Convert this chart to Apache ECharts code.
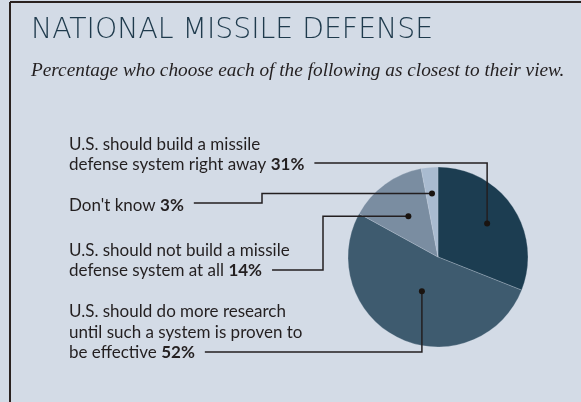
<!DOCTYPE html>
<html>
<head>
<meta charset="utf-8">
<script src="https://cdn.jsdelivr.net/npm/echarts@6/dist/echarts.min.js"></script>
<style>
html,body{margin:0;padding:0;background:#d3dbe6;}
#chart{width:581px;height:402px;}
</style>
</head>
<body>
<div id="chart"></div>
<script>
// ---- data ----
var categories = [
  'U.S. should build a missile\ndefense system right away',
  'U.S. should do more research\nuntil such a system is proven to\nbe effective',
  'U.S. should not build a missile\ndefense system at all',
  "Don't know"
];
var values = [31, 52, 14, 3];
var titleText = 'NATIONAL MISSILE DEFENSE';
var subtitleText = 'Percentage who choose each of the following as closest to their view.';

// ---- style ----
var sliceColors = ['#1c3d51', '#3e5b6f', '#7a8da1', '#a9bbd0'];
var BG = '#d3dbe6';
var TEXT = '#231f20';
var LINE = '#231f20';
var LABEL_FONT = 'Lato';
var LABEL_SIZE = 17;
var LABEL_X = 69;
var LINE_H = 20.5;
// last-line centre y of each label block, leader y, elbow x (null = straight up/down to dot), dot radius fraction
var labelLastY = [165, 353, 271, 206];
var lineY = [163, 352, 270, 203];
var elbowX = [null, null, 323, 262];
var dotFrac = [0.66, 0.42, 0.56, 0.71];

var chart = echarts.init(document.getElementById('chart'), null, {renderer: 'canvas'});

function buildData() {
  return values.map(function (v, i) {
    var lines = categories[i].split('\n');
    var txt = lines.map(function (l, k) {
      return '{n|' + l + (k === lines.length - 1 ? ' ' : '') + '}' + (k === lines.length - 1 ? '{b|' + v + '%}' : '');
    }).join('\n');
    return {value: v, name: categories[i], itemStyle: {color: sliceColors[i]}, label: {formatter: txt}};
  });
}

var mctx = document.createElement('canvas').getContext('2d');
function lastLineWidth(i) {
  var lines = categories[i].split('\n');
  mctx.font = LABEL_SIZE + 'px "' + LABEL_FONT + '"';
  var w = mctx.measureText(lines[lines.length - 1] + ' ').width;
  mctx.font = 'bold ' + LABEL_SIZE + 'px "' + LABEL_FONT + '"';
  w += mctx.measureText(values[i] + '%').width;
  return w;
}

var baseGraphic = [
  {type: 'rect', shape: {x: 0, y: 0, width: 581, height: 402}, style: {fill: BG}, z: -10, silent: true},
  {type: 'line', shape: {x1: 10, y1: 2, x2: 581, y2: 2}, style: {stroke: '#2a2220', lineWidth: 2}},
  {type: 'line', shape: {x1: 10, y1: 2, x2: 10, y2: 402}, style: {stroke: '#2a2220', lineWidth: 2}},
  {type: 'text', x: 31, y: 30.5, style: {text: titleText, fill: '#1e3a4c', font: '200 28.3px "DejaVu Sans"', textVerticalAlign: 'middle'}},
  {type: 'text', x: 31, y: 71, style: {text: subtitleText, fill: TEXT, font: 'italic 19.3px "Liberation Serif"', textVerticalAlign: 'middle'}}
];

chart.setOption({
  backgroundColor: BG,
  graphic: baseGraphic,
  series: [{
    type: 'pie',
    center: [438, 257],
    radius: 90,
    startAngle: 90,
    clockwise: true,
    animation: false,
    avoidLabelOverlap: false,
    data: buildData(),
    itemStyle: {borderColor: 'rgba(211,219,230,0.5)', borderWidth: 0.5},
    label: {
      show: true,
      position: 'outside',
      color: TEXT,
      lineHeight: LINE_H,
      rich: {
        n: {fontFamily: LABEL_FONT, fontSize: LABEL_SIZE, color: TEXT, lineHeight: LINE_H},
        b: {fontFamily: LABEL_FONT, fontSize: LABEL_SIZE, fontWeight: 'bold', color: TEXT, lineHeight: LINE_H}
      }
    },
    labelLine: {show: false},
    labelLayout: function (p) {
      var i = p.dataIndex;
      var nLines = categories[i].split('\n').length;
      var top = labelLastY[i] + LINE_H / 2 - nLines * LINE_H;
      return {x: LABEL_X, y: top, align: 'left', verticalAlign: 'top'};
    },
    emphasis: {disabled: true}
  }]
});

// read slice geometry from the library's layout
var sData = chart.getModel().getSeriesByIndex(0).getData();
var dots = values.map(function (v, i) {
  var L = sData.getItemLayout(i);
  var mid = (L.startAngle + L.endAngle) / 2;
  var rr = L.r * dotFrac[i];
  return [L.cx + rr * Math.cos(mid), L.cy + rr * Math.sin(mid)];
});

var extra = [];
dots.forEach(function (d, i) {
  var sx = LABEL_X + lastLineWidth(i) + 10;
  var ly = lineY[i];
  var pts = elbowX[i] === null
    ? [[sx, ly], [d[0], ly], [d[0], d[1]]]
    : [[sx, ly], [elbowX[i], ly], [elbowX[i], d[1]], [d[0], d[1]]];
  extra.push({type: 'polyline', shape: {points: pts}, style: {stroke: LINE, lineWidth: 1.5, fill: null}, z: 90, silent: true});
  extra.push({type: 'circle', shape: {cx: d[0], cy: d[1], r: 3}, style: {fill: '#1a1410'}, z: 100, silent: true});
});

chart.setOption({graphic: baseGraphic.concat(extra)});
</script>
</body>
</html>
